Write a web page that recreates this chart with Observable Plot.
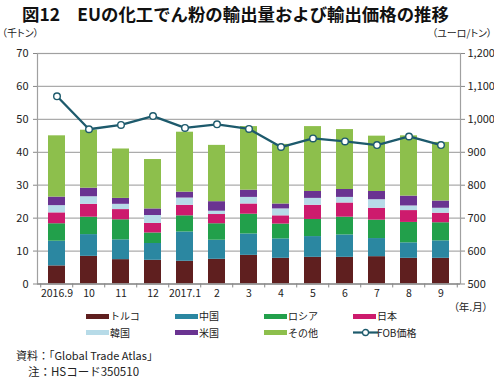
<!DOCTYPE html>
<html><head><meta charset="utf-8">
<script src="https://cdn.jsdelivr.net/npm/d3@7"></script>
<script src="https://cdn.jsdelivr.net/npm/@observablehq/plot@0.6"></script>
<style>
body{margin:0;background:#fff;font-family:"Noto Sans CJK JP","Noto Sans",sans-serif;color:#222}
#wrap{position:relative;width:494px;height:379px;overflow:hidden;background:#fff}
.abs{position:absolute;white-space:nowrap;z-index:2}
.palt{font-feature-settings:"palt"}
#chart{position:absolute;left:0;top:26px;z-index:1}
</style></head><body><div id="wrap"><div id="chart"></div></div>
<script>
const months = ["2016.9","10","11","12","2017.1","2","3","4","5","6","7","8","9"];
const seriesNames = ["トルコ","中国","ロシア","日本","韓国","米国","その他"];
const seriesColors = ["#5f1f1f","#2b87a1","#22a04b","#cd1b6d","#b7dbe8","#6a3391","#8dbf4c"];
const turkey = [5.5,8.4,7.4,7.2,6.9,7.5,8.7,7.8,8.1,8.1,8.3,7.8,7.8];
const china  = [7.5,6.6,6.0,5.1,8.9,5.8,6.5,5.9,6.3,6.8,5.5,4.7,5.3];
const russia = [5.3,5.3,6.1,3.2,4.9,5.0,6.0,4.5,5.2,5.4,5.6,6.2,5.5];
const japan  = [3.3,3.9,3.1,2.9,3.2,2.8,3.1,2.5,4.3,4.3,3.6,3.6,2.9];
const korea  = [2.2,2.3,1.6,2.4,2.2,1.0,2.0,2.1,2.1,1.7,2.6,1.4,1.5];
const usa    = [2.6,2.6,1.8,2.0,1.8,2.9,2.2,1.5,2.1,2.4,2.5,3.0,2.2];
const others = [18.6,17.6,15.0,15.0,18.2,17.1,19.3,18.1,19.7,18.2,16.8,18.3,17.8];
const fobPrice = [1070,970,983,1010,974,985,971,916,942,933,922,948,922];
const leftTicks = [0,10,20,30,40,50,60,70];
const rightTicks = [500,600,700,800,900,1000,1100,1200];
const lineName = "FOB価格";
const lineColor = "#1d5a6c";

const seriesValues = [turkey, china, russia, japan, korea, usa, others];
const tidy = [];
seriesNames.forEach((s, k) => months.forEach((m, i) => tidy.push({month: m, series: s, value: seriesValues[k][i]})));

const yMax = leftTicks[leftTicks.length - 1];
const pMin = rightTicks[0], pMax = rightTicks[rightTicks.length - 1];
const priceToY = p => (p - pMin) / (pMax - pMin) * yMax;

const W = 494, H = 279, ML = 37, MR = 34, MT = 27, MB = 21.5;
const step = (W - ML - MR) / months.length;
const font = '"Noto Sans CJK JP","Noto Sans",sans-serif';

const chart = Plot.plot({
  width: W, height: H,
  marginLeft: ML, marginRight: MR, marginTop: MT, marginBottom: MB,
  style: {fontFamily: font, fontSize: "11px", color: "#222", background: "transparent"},
  x: {type: "band", domain: months, paddingInner: 0.46, paddingOuter: 0.23, axis: null},
  y: {domain: [0, yMax], axis: null},
  color: {domain: seriesNames, range: seriesColors},
  marks: [
    Plot.gridY(leftTicks, {stroke: "#ababab", strokeOpacity: 1, strokeWidth: 1.2}),
    Plot.barY(tidy, {x: "month", y: "value", fill: "series", order: null}),
    Plot.frame({stroke: "#a0a0a0", strokeWidth: 1.2}),
    Plot.ruleY([0], {stroke: "#888", strokeWidth: 1.2}),
    Plot.ruleX(months, {x: d => d, dx: -step / 2, y1: 0, y2: -1.2, stroke: "#888"}),
    Plot.ruleX(months.slice(-1), {x: d => d, dx: step / 2, y1: 0, y2: -1.2, stroke: "#888"}),
    Plot.axisY(leftTicks, {anchor: "left", tickSize: 4, tickPadding: 5, stroke: "#888", fontSize: 11, label: null, tickFormat: d => d}),
    Plot.axisY(leftTicks, {anchor: "right", tickSize: 4, tickPadding: 3, stroke: "#888", fontSize: 11, label: null,
      tickFormat: d => d3.format(",")(rightTicks[leftTicks.indexOf(d)])}),
    Plot.axisX({tickSize: 0, tickPadding: 6, fontSize: 10.5, label: null}),
    Plot.line(months, {x: d => d, y: (d, i) => priceToY(fobPrice[i]), stroke: lineColor, strokeWidth: 2.3}),
    Plot.dot(months, {x: d => d, y: (d, i) => priceToY(fobPrice[i]), r: 3.3, fill: "white", stroke: lineColor, strokeWidth: 1.4})
  ]
});
document.getElementById("chart").appendChild(chart);

const wrap = document.getElementById("wrap");
function addText(txt, css, cls) {
  const d = document.createElement("div");
  d.className = "abs" + (cls ? " " + cls : "");
  d.textContent = txt;
  Object.assign(d.style, css);
  wrap.appendChild(d);
  return d;
}
addText("図12　EUの化工でん粉の輸出量および輸出価格の推移", {left: "22px", top: "2px", fontSize: "17.4px", fontWeight: "bold", lineHeight: "24px", color: "#111"});
addText("（千トン）", {left: "2px", top: "26px", fontSize: "10px", lineHeight: "14px"}, "palt");
addText("（ユーロ/トン）", {right: "2px", top: "26px", fontSize: "10px", lineHeight: "14px"}, "palt");
addText("（年.月）", {right: "6px", top: "300px", fontSize: "10.5px", lineHeight: "14px"}, "palt");

// legend
const legendItems = seriesNames.map((s, i) => ({name: s, color: seriesColors[i], type: "bar"}));
legendItems.push({name: lineName, color: lineColor, type: "line"});
const colX = [86, 175, 264, 353];
const rowY = [316, 332.5];
legendItems.forEach((it, i) => {
  const cx = colX[i % 4], cy = rowY[Math.floor(i / 4)];
  const sw = document.createElement("div");
  sw.className = "abs";
  if (it.type === "bar") {
    Object.assign(sw.style, {left: cx + "px", top: (cy - 2.5) + "px", width: "23px", height: "5px", background: it.color});
  } else {
    sw.innerHTML = `<svg width="25" height="9"><line x1="0" y1="4.5" x2="25" y2="4.5" stroke="${it.color}" stroke-width="2.2"/><circle cx="12.5" cy="4.5" r="3" fill="white" stroke="${it.color}" stroke-width="1.3"/></svg>`;
    Object.assign(sw.style, {left: cx + "px", top: (cy - 4.5) + "px", width: "25px", height: "9px", lineHeight: "0"});
  }
  wrap.appendChild(sw);
  addText(it.name, {left: (cx + 24) + "px", top: (cy - 7) + "px", fontSize: "10px", lineHeight: "14px"});
});

addText("資料：「Global Trade Atlas」", {left: "16px", top: "348px", fontSize: "11px", lineHeight: "15px"});
addText("注：HSコード350510", {left: "28px", top: "365px", fontSize: "11.5px", lineHeight: "13px"});
</script></body></html>
